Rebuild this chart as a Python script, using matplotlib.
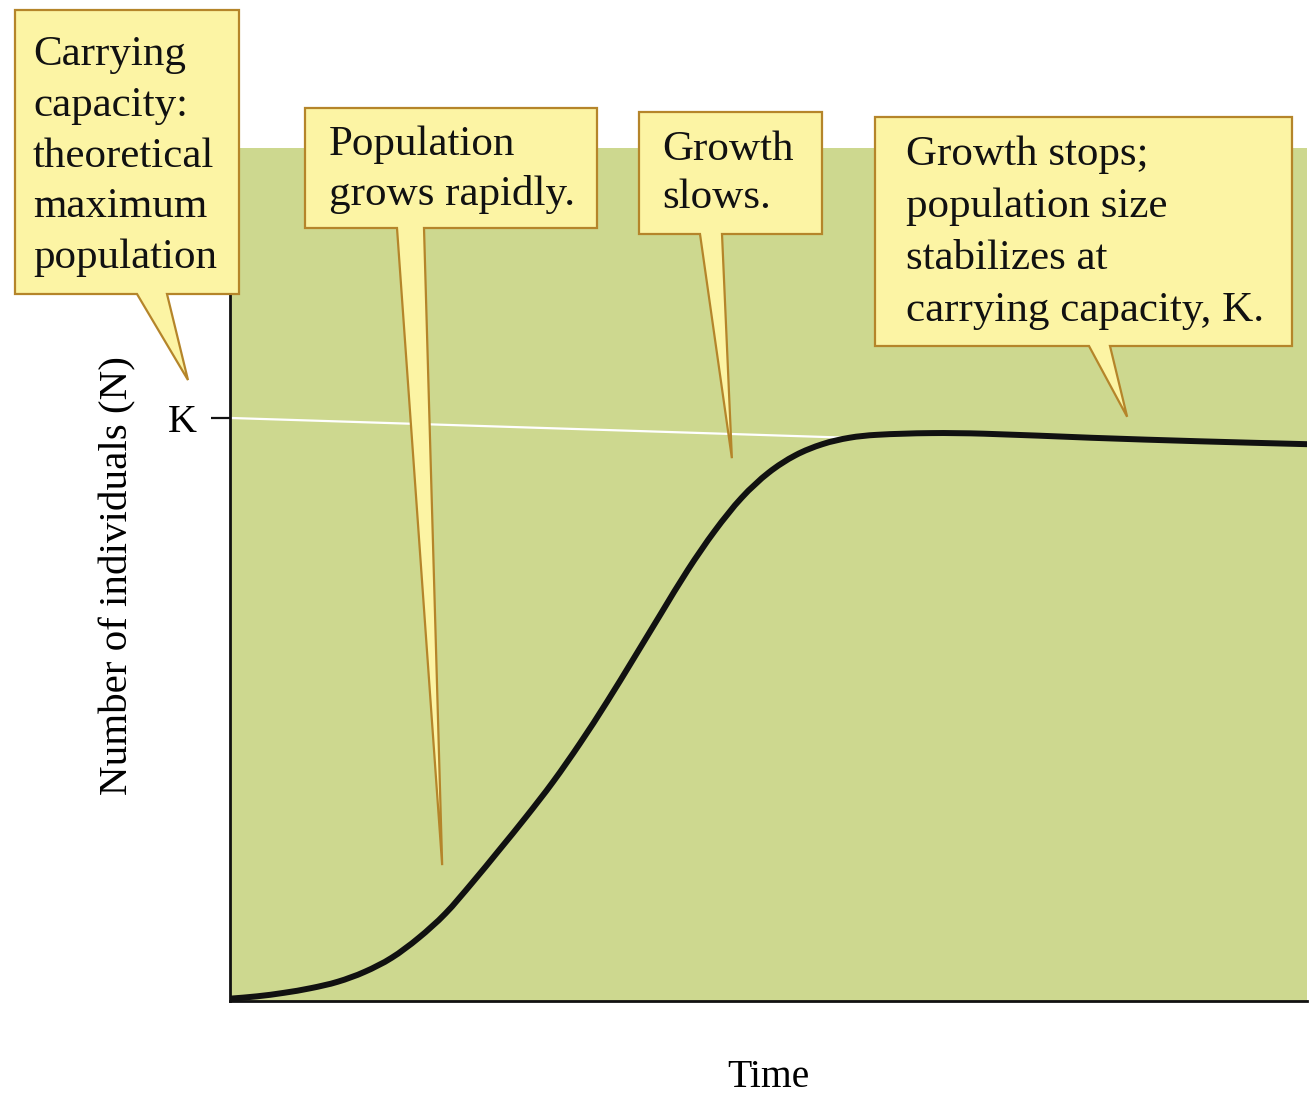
import matplotlib
matplotlib.use("Agg")
import matplotlib.pyplot as plt
from matplotlib.patches import Polygon, PathPatch
from matplotlib.path import Path

# Logistic growth of a population: time vs. number of individuals (K = 100)
time = [0, 2.5, 5, 7.5, 10, 12.5, 15, 17.5, 20, 22.5, 25, 27.5, 30, 32.5, 35,
        37.5, 40, 42.5, 45, 47.5, 50, 52.5, 55, 57.5, 60, 65, 70, 80, 90, 100]
individuals = [0.4, 0.8, 1.4, 2.2, 3.3, 5.0, 7.4, 10.8, 15.0, 20.3, 25.9, 31.6,
               37.6, 44.2, 51.3, 58.8, 66.4, 73.9, 80.6, 86.3, 90.6, 93.6, 95.5,
               96.6, 97.1, 97.4, 97.3, 96.6, 96.0, 95.5]
carrying_capacity = 100
k_tick_label = "K"

# Callout texts and the data points their pointers aim at
callout_texts = [
    ["Carrying", "capacity:", "theoretical", "maximum", "population"],
    ["Population", "grows rapidly."],
    ["Growth", "slows."],
    ["Growth stops;", "population size", "stabilizes at", "carrying capacity, K."],
]
callout_targets = [(-3.9, 106.5), (19.7, 23.3), (46.6, 93.1), (83.3, 100.2)]

W, H = 1311, 1098
SERIF = "Liberation Serif"


def hermite_path(xs, ys):
    """Smooth path through the points using cubic Hermite segments in x."""
    n = len(xs)
    slopes = []
    for i in range(n):
        lo, hi = max(i - 1, 0), min(i + 1, n - 1)
        slopes.append((ys[hi] - ys[lo]) / (xs[hi] - xs[lo]))
    verts = [(xs[0], ys[0])]
    codes = [Path.MOVETO]
    for i in range(n - 1):
        h = xs[i + 1] - xs[i]
        verts += [(xs[i] + h / 3, ys[i] + slopes[i] * h / 3),
                  (xs[i + 1] - h / 3, ys[i + 1] - slopes[i + 1] * h / 3),
                  (xs[i + 1], ys[i + 1])]
        codes += [Path.CURVE4] * 3
    return Path(verts, codes)


fig = plt.figure(figsize=(W / 100, H / 100), dpi=100, facecolor="white")
ax = fig.add_axes([230 / W, (H - 1001) / H, (1307 - 230) / W, (1001 - 148) / H])
ax.set_facecolor("#cdd88f")
ax.set_xlim(0, 100)
ax.set_ylim(0, 146.3)

# K reference line running to where the curve levels off
k_end = time.index(57.5)
ax.plot([0, time[k_end]], [carrying_capacity, individuals[k_end]],
        color="white", lw=1.6, zorder=2, solid_capstyle="butt")

ax.add_patch(PathPatch(hermite_path(time, individuals), fill=False,
                       edgecolor="#111111", lw=4.3, zorder=3,
                       capstyle="round", joinstyle="round"))

for side in ("top", "right"):
    ax.spines[side].set_visible(False)
for side in ("left", "bottom"):
    ax.spines[side].set_linewidth(2.0)
    ax.spines[side].set_color("#111111")

ax.set_xticks([])
ax.set_yticks([carrying_capacity])
ax.set_yticklabels([k_tick_label], fontsize=29, family=SERIF)
ax.tick_params(axis="y", length=14, width=1.6, pad=10, color="#111111")

ax.set_xlabel("Time", fontsize=28.5, family=SERIF, va="baseline")
ax.xaxis.set_label_coords(0.4995, (1001 - 1087) / (1001 - 148))
ax.set_ylabel("Number of individuals (N)", fontsize=29.5, family=SERIF, va="baseline")
ax.yaxis.set_label_coords((127 - 230) / (1307 - 230), (1001 - 576) / (1001 - 148))

# Overlay in pixel units for the speech-bubble callouts
ov = fig.add_axes([0, 0, 1, 1], zorder=5)
ov.set_xlim(0, W)
ov.set_ylim(H, 0)
ov.axis("off")
ov.patch.set_alpha(0)

# box (left, top, right, bottom), pointer base (x0, x1), text x, first baseline, line step
layouts = [
    ((15, 10, 239, 294), (137, 167), 33, 65, 50.8),
    ((305, 108, 597, 228), (397, 424), 329, 155, 50),
    ((639, 112, 822, 234), (700, 722), 662, 160, 48),
    ((875, 117, 1292, 346), (1089, 1110), 906, 165, 52),
]

to_pixels = lambda xy: ov.transData.inverted().transform(ax.transData.transform(xy))

for lines, target, (box, base, tx, ty0, step) in zip(callout_texts, callout_targets, layouts):
    x0, y0, x1, y1 = box
    px, py = to_pixels(target)
    pts = [(x0, y0), (x1, y0), (x1, y1), (base[1], y1), (px, py),
           (base[0], y1), (x0, y1)]
    ov.add_patch(Polygon(pts, closed=True, facecolor="#fcf4a4",
                         edgecolor="#b5852a", lw=1.6, joinstyle="miter"))
    for i, line in enumerate(lines):
        ov.text(tx, ty0 + i * step, line, fontsize=31, family=SERIF,
                color="#111111", ha="left", va="baseline")

fig.savefig("out.png", dpi=100, facecolor="white")
